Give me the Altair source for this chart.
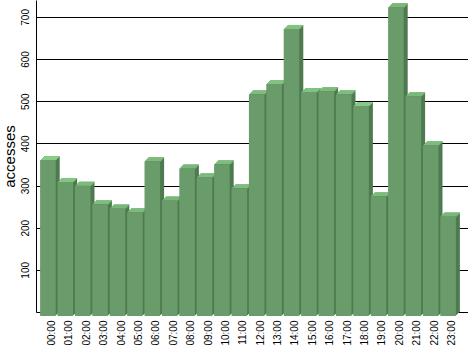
import altair as alt
import pandas as pd

hours = ["00:00", "01:00", "02:00", "03:00", "04:00", "05:00", "06:00", "07:00",
         "08:00", "09:00", "10:00", "11:00", "12:00", "13:00", "14:00", "15:00",
         "16:00", "17:00", "18:00", "19:00", "20:00", "21:00", "22:00", "23:00"]
accesses = [370, 318, 309, 265, 255, 246, 367, 274, 350, 329, 360, 303,
            526, 550, 681, 531, 533, 526, 498, 284, 732, 521, 405, 236]
y_ticks = [0, 100, 200, 300, 400, 500, 600, 700]

df = pd.DataFrame({"hour": hours, "accesses": accesses})

FRONT = "#6a9b6a"
TOP = "#88cc88"
SIDE = "#4e7a4f"
D = 4
W = 15.6

x_enc = alt.X("hour:N", sort=hours, title=None,
              scale=alt.Scale(paddingInner=0, paddingOuter=0.414),
              axis=alt.Axis(labelAngle=-90, ticks=False, domain=False, grid=False,
                            labelPadding=8, labelFontSize=10, labelColor="black",
                            labelFont="Liberation Sans"))
y_enc = alt.Y("accesses:Q", title="accesses",
              scale=alt.Scale(domain=[0, 740], nice=False, zero=True),
              axis=alt.Axis(values=y_ticks, grid=True, gridColor="black", gridOpacity=1,
                            gridWidth=1, domainColor="black", domainWidth=1, ticks=False,
                            labelAngle=-90, labelAlign="center", labelBaseline="bottom",
                            labelPadding=6, labelFontSize=10, labelColor="black",
                            labelFont="Liberation Sans",
                            labelExpr="datum.value == 0 ? '' : datum.label",
                            titleFont="Liberation Sans", titleFontSize=15,
                            titleFontWeight="normal", titleColor="black",
                            titlePadding=3))

base = alt.Chart(df)
layers = []
# side/extrusion in dark colour
for k in range(D - 1, -1, -1):
    layers.append(base.mark_bar(color=SIDE, width=W, xOffset=-k, yOffset=k, y2Offset=k)
                  .encode(x=x_enc, y=y_enc, y2=alt.datum(0)))
# top face rows in light colour
for k in range(D):
    layers.append(base.mark_bar(color=TOP, width=W, xOffset=-k, yOffset=k, y2Offset=k + 1)
                  .encode(x=x_enc, y=y_enc, y2="accesses:Q"))
# front face
layers.append(base.mark_bar(color=FRONT, width=W, xOffset=-D, yOffset=D, y2Offset=D)
              .encode(x=x_enc, y=y_enc, y2=alt.datum(0)))

chart = alt.layer(*layers).properties(
    width=432, height=312,
    autosize=alt.AutoSizeParams(type="none"),
    padding={"left": 36, "top": 0, "right": 0, "bottom": 39},
    background="white",
).configure_view(stroke=None)

chart.save("out.html", embed_options={"renderer": "svg", "actions": False})
